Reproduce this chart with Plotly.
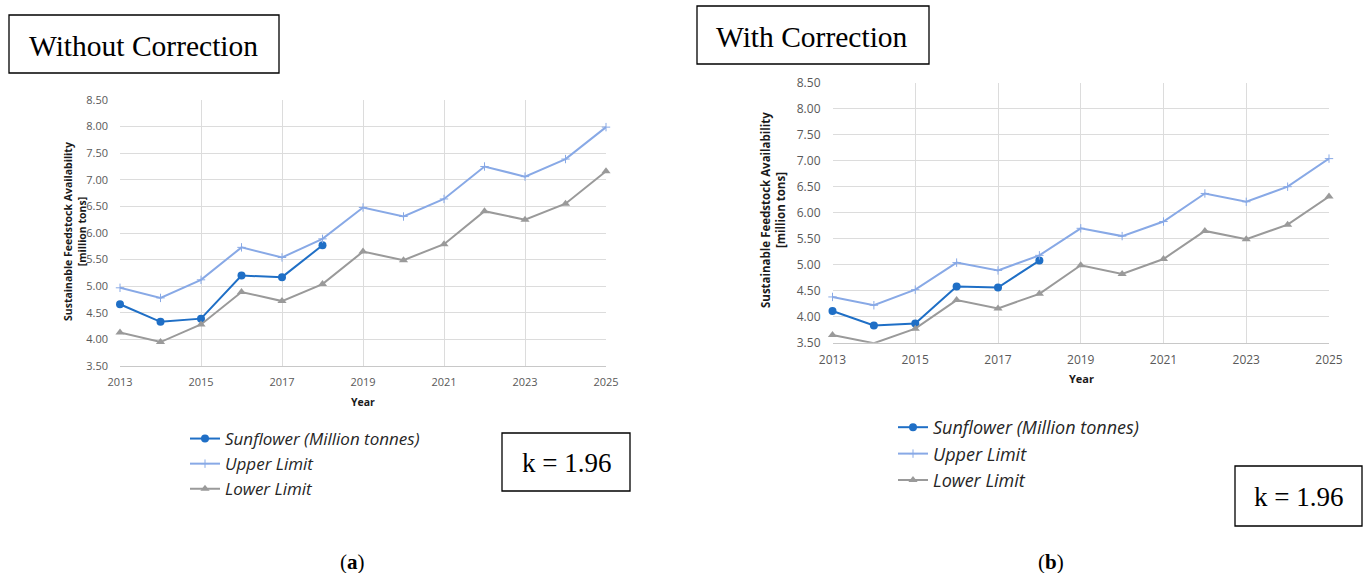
import plotly.graph_objects as go

# ---- data -------------------------------------------------------------
years = list(range(2013, 2026))
sun_years = list(range(2013, 2019))

# (a) without correction
sunflower_a = [4.66, 4.33, 4.39, 5.20, 5.17, 5.77]
upper_a = [4.97, 4.78, 5.12, 5.73, 5.54, 5.89, 6.48, 6.31, 6.64, 7.25, 7.06, 7.39, 7.99]
lower_a = [4.13, 3.95, 4.28, 4.89, 4.72, 5.04, 5.65, 5.49, 5.79, 6.41, 6.25, 6.55, 7.16]

# (b) with correction
sunflower_b = [4.11, 3.83, 3.87, 4.58, 4.56, 5.08]
upper_b = [4.38, 4.22, 4.52, 5.04, 4.89, 5.18, 5.70, 5.55, 5.83, 6.37, 6.21, 6.50, 7.04]
lower_b = [3.65, 3.49, 3.77, 4.32, 4.16, 4.44, 4.99, 4.82, 5.11, 5.65, 5.49, 5.77, 6.31]

series_names = ["Sunflower (Million tonnes)", "Upper Limit", "Lower Limit"]
y_ticks = [3.5, 4.0, 4.5, 5.0, 5.5, 6.0, 6.5, 7.0, 7.5, 8.0, 8.5]
x_ticks = [2013, 2015, 2017, 2019, 2021, 2023, 2025]

# ---- page geometry (pixels -> paper) -----------------------------------
W, H = 1366, 573


def px(x):
    return x / W


def py(y):
    return 1 - y / H


C_SUN = "#1f6fc6"
C_UP = "#88a9e6"
C_LOW = "#9a9a9a"
GRID = "#dcdcdc"
TICK = "#595959"
SANS = "Open Sans"
SERIF = "Liberation Serif"

fig = go.Figure()


def add_series(xa, ya, legend, sun, up, low):
    fig.add_trace(go.Scatter(
        x=sun_years, y=sun, name=series_names[0], mode="lines+markers",
        line=dict(color=C_SUN, width=2), marker=dict(symbol="circle", size=8, color=C_SUN),
        xaxis=xa, yaxis=ya, legend=legend, cliponaxis=False))
    fig.add_trace(go.Scatter(
        x=years, y=up, name=series_names[1], mode="lines+markers",
        line=dict(color=C_UP, width=2),
        marker=dict(symbol="cross-thin", size=6, color=C_UP, line=dict(color=C_UP, width=1)),
        xaxis=xa, yaxis=ya, legend=legend, cliponaxis=False))
    fig.add_trace(go.Scatter(
        x=years, y=low, name=series_names[2], mode="lines+markers",
        line=dict(color=C_LOW, width=2), marker=dict(symbol="triangle-up", size=8, color=C_LOW),
        xaxis=xa, yaxis=ya, legend=legend, cliponaxis=False))


add_series("x", "y", "legend", sunflower_a, upper_a, lower_a)
add_series("x2", "y2", "legend2", sunflower_b, upper_b, lower_b)


def xaxis_cfg(x0, x1, size, anchor):
    return dict(
        domain=[px(x0), px(x1)], range=[2013, 2025], tickvals=x_ticks,
        showgrid=True, gridcolor=GRID, gridwidth=1, zeroline=False,
        showline=True, linecolor="#c8c8c8", linewidth=1,
        tickfont=dict(family=SANS, size=size, color=TICK),
        ticks="", ticklabelstandoff=6, anchor=anchor, fixedrange=True,
        automargin=False)


def yaxis_cfg(y0, y1, size, anchor):
    return dict(
        domain=[py(y1), py(y0)], range=[3.5, 8.5], tickvals=y_ticks,
        tickformat=".2f", showgrid=True, gridcolor=GRID, gridwidth=1,
        zeroline=False, showline=False,
        tickfont=dict(family=SANS, size=size, color=TICK),
        ticks="", ticklabelstandoff=11, anchor=anchor, fixedrange=True,
        automargin=False)


annotations = []
shapes = []


def text(x, y, s, size, family=SANS, color="#000000", angle=0, bold=False):
    annotations.append(dict(
        x=px(x), y=py(y), xref="paper", yref="paper", text=s, showarrow=False,
        textangle=angle, xanchor="center", yanchor="middle",
        font=dict(family=family, size=size, color=color,
                  weight="bold" if bold else "normal")))


def box(x0, y0, x1, y1):
    shapes.append(dict(type="rect", xref="paper", yref="paper",
                       x0=px(x0), x1=px(x1), y0=py(y1), y1=py(y0),
                       line=dict(color="#000000", width=1.3), fillcolor="rgba(0,0,0,0)"))


# headings
box(9, 15, 279, 73)
text(143, 46, "Without Correction", 29.5, SERIF)
box(697, 6, 929, 64)
text(812, 37, "With Correction", 29.5, SERIF)

# k boxes
box(502, 433, 630, 491)
text(566, 463, "k = 1.96", 27, SERIF)
box(1235, 466, 1362, 526)
text(1298, 497, "k = 1.96", 27, SERIF)

# panel labels
text(352, 562, "(<b>a</b>)", 21, SERIF)
text(1051, 562, "(<b>b</b>)", 21, SERIF)

# axis titles
text(75, 232, "Sustainable Feedstock Availability<br>[million tons]", 10.5, SANS,
     "#1a1a1a", -90, True)
text(773, 210, "Sustainable Feedstock Availability<br>[million tons]", 11.5, SANS,
     "#1a1a1a", -90, True)
text(363, 402, "Year", 10.5, SANS, "#1a1a1a", bold=True)
text(1081, 378, "Year", 11, SANS, "#1a1a1a", bold=True)

fig.update_layout(
    width=W, height=H, autosize=False,
    margin=dict(l=0, r=0, t=0, b=0, pad=0, autoexpand=False),
    paper_bgcolor="white", plot_bgcolor="white",
    xaxis=xaxis_cfg(120, 606, 11, "y"),
    yaxis=yaxis_cfg(100, 366, 11, "x"),
    xaxis2=xaxis_cfg(832.5, 1329, 12, "y2"),
    yaxis2=yaxis_cfg(82.7, 342.7, 12, "x2"),
    legend=dict(x=px(185), y=py(421), xanchor="left", yanchor="top",
                font=dict(family=SANS, size=17, color="#262626", style="italic"),
                bgcolor="rgba(0,0,0,0)", itemwidth=30, tracegroupgap=0,
                itemclick=False, itemdoubleclick=False),
    legend2=dict(x=px(893), y=py(409), xanchor="left", yanchor="top",
                 font=dict(family=SANS, size=18, color="#262626", style="italic"),
                 bgcolor="rgba(0,0,0,0)", itemwidth=30, tracegroupgap=0,
                 itemclick=False, itemdoubleclick=False),
    annotations=annotations, shapes=shapes, showlegend=True,
)

fig.write_html("out.html")
